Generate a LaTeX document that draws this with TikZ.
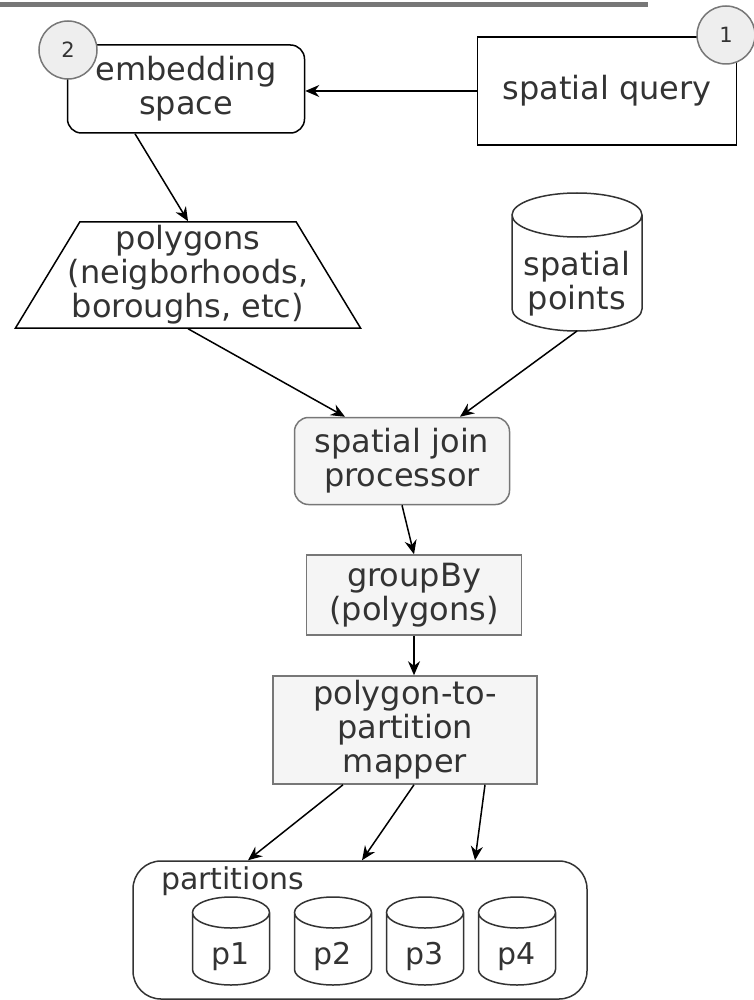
\documentclass[tikz,border=0pt]{standalone}
\usepackage{fontspec}
\setmainfont{DejaVu Sans}
\usetikzlibrary{shapes.geometric,arrows.meta}
\definecolor{procfill}{HTML}{F5F5F5}
\definecolor{procline}{HTML}{777777}
\definecolor{txtdark}{HTML}{333333}
\definecolor{circfill}{HTML}{EEEEEE}
\tikzset{
    stepbox/.style={draw, line width=1.5pt, align=center, text=txtdark,
        font=\fontsize{32}{34}\selectfont, inner sep=0pt},
    procbox/.style={stepbox, draw=procline, fill=procfill},
    numcirc/.style={draw=procline, fill=circfill, circle, minimum size=58pt,
        inner sep=0pt, text=txtdark, font=\fontsize{21}{24}\selectfont},
    dbbody/.style={align=center, text=txtdark, inner sep=0pt, outer sep=0pt},
    cylline/.style={draw=txtdark, line width=1.5pt},
}
% outline of a database cylinder round the body node #1 (x radius #2, y radius #3)
\newcommand{\dbdraw}[3]{%
    \draw[cylline] ([yshift=#3]#1.north west) -- ([yshift=#3]#1.south west)
        arc[start angle=180, end angle=360, x radius=#2, y radius=#3]
        -- ([yshift=#3]#1.north east)
        arc[start angle=0, end angle=360, x radius=#2, y radius=#3];
}
\begin{document}
\begin{tikzpicture}[x=1pt, y=-1pt, >={Stealth[length=14pt,width=12pt]}, line width=1.5pt]
    \useasboundingbox (0,0) rectangle (753,1000);
    \draw[procline, line width=5pt] (0,5) -- (648,5);

    % query and embedding
    \node[stepbox, minimum width=259pt, minimum height=108pt] (query) at (607,91) {spatial query};
    \node[stepbox, rounded corners=14pt, minimum width=237pt, minimum height=88pt] (embed) at (186,89) {embedding\\space};
    \node[numcirc] (c1) at (726,35) {1};
    \node[numcirc] (c2) at (68,50) {2};
    \draw[->] (query.west) -- (query.west -| embed.east);

    % inputs of the join
    \node[stepbox, trapezium, trapezium left angle=57, trapezium right angle=57,
        trapezium stretches body, inner xsep=-24pt, minimum width=345pt, minimum height=106pt] (poly) at (188,275)
        {polygons\\(neigborhoods,\\boroughs, etc)};
    \node[dbbody, font=\fontsize{32}{34}\selectfont, minimum width=130pt, minimum height=94pt] (pts) at (577,284) {spatial\\points};
    \dbdraw{pts}{65pt}{22pt}
    \draw[->] ([xshift=-51pt]embed.south) -- (poly.north);

    % processing chain
    \node[procbox, rounded corners=14pt, minimum width=215pt, minimum height=87pt] (join) at (402,461) {spatial join\\processor};
    \node[procbox, minimum width=215pt, minimum height=80pt] (group) at (414,595) {groupBy\\(polygons)};
    \node[procbox, minimum width=264pt, minimum height=108pt] (mapper) at (405,730) {polygon-to-\\partition\\mapper};
    \draw[->] (poly.south) -- ([xshift=-57pt]join.north);
    \draw[->] (pts.south) -- ([xshift=58pt]join.north);
    \draw[->] (join.south) -- (group.north);
    \draw[->] (group.south) -- (group.south |- mapper.north);

    % partitions
    \node[stepbox, draw=txtdark, rounded corners=28pt, minimum width=454pt, minimum height=138pt] (parts) at (360,930) {};
    \node[anchor=west, text=txtdark, font=\fontsize{30}{32}\selectfont] (plabel) at (157,881) {partitions};
    \foreach \i/\x in {1/231,2/333,3/425,4/517} {
        \node[dbbody, font=\fontsize{30}{32}\selectfont, minimum width=77pt, minimum height=57pt] (p\i) at (\x,956.5) {p\i};
        \dbdraw{p\i}{38.5pt}{15.5pt}
    }
    \draw[->] ([xshift=-62pt]mapper.south) -- (parts.north -| 248,0);
    \draw[->] ([xshift=9pt]mapper.south) -- (parts.north -| 362,0);
    \draw[->] ([xshift=80pt]mapper.south) -- (parts.north -| 475,0);
\end{tikzpicture}
\end{document}
